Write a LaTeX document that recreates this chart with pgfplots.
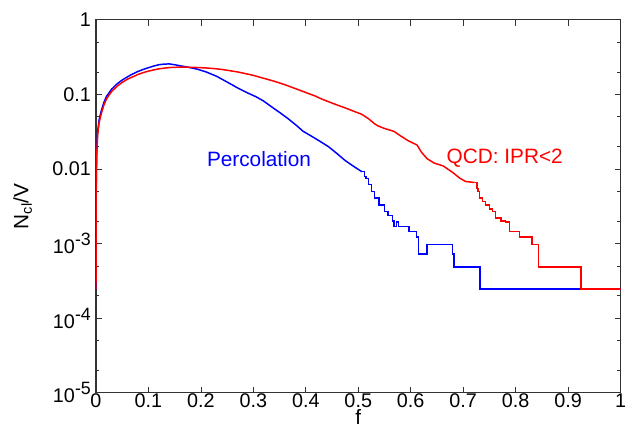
\documentclass[border=0pt]{standalone}
\usepackage{fontspec}
\setmainfont{Liberation Sans}
\usepackage{pgfplots}
\pgfplotsset{compat=1.18}
\pgfplotstableread{
f y
0 0.000245
0.0003 0.004
0.0008 0.009
0.0015 0.016
0.003 0.028
0.006 0.042
0.010 0.055
0.015 0.072
0.020 0.087
0.030 0.11
0.040 0.128
0.050 0.145
0.060 0.160
0.070 0.172
0.080 0.185
0.090 0.196
0.100 0.205
0.110 0.213
0.120 0.220
0.130 0.225
0.140 0.229
0.150 0.231
0.165 0.232
0.180 0.231
0.195 0.229
0.210 0.226
0.225 0.222
0.240 0.216
0.255 0.208
0.270 0.200
0.285 0.190
0.300 0.180
0.319 0.165
0.340 0.150
0.360 0.135
0.381 0.119
0.400 0.106
0.418 0.095
0.430 0.087
0.443 0.080
0.460 0.072
0.475 0.066
0.490 0.060
0.507 0.054
0.520 0.047
0.530 0.041
0.537 0.038
0.550 0.035
0.568 0.032
0.580 0.028
0.595 0.024
0.612 0.021
0.620 0.017
0.631 0.0138
0.645 0.012
0.662 0.011
0.680 0.0090
0.694 0.0075
0.705 0.0068
0.722 0.0066
}\qcdA
\pgfplotstableread{
f y
0.722 0.0066
0.726 0.0055
0.728 0.0050
0.731 0.0041
0.737 0.0037
0.743 0.0033
0.750 0.0029
0.756 0.0027
0.762 0.0022
0.772 0.0020
0.781 0.00195
0.788 0.00146
0.807 0.00122
0.831 0.00098
0.844 0.00049
0.925 0.000245
1.0 0.000245
}\qcdB
\pgfplotstableread{
f y
0 0.000245
0.0003 0.005
0.0008 0.010
0.0015 0.018
0.003 0.031
0.006 0.046
0.010 0.060
0.015 0.078
0.020 0.094
0.030 0.118
0.040 0.138
0.050 0.156
0.060 0.172
0.070 0.188
0.080 0.203
0.090 0.216
0.100 0.228
0.110 0.240
0.120 0.250
0.130 0.255
0.140 0.256
0.150 0.250
0.160 0.242
0.175 0.232
0.193 0.218
0.210 0.200
0.230 0.175
0.255 0.140
0.270 0.122
0.290 0.104
0.305 0.093
0.319 0.082
0.335 0.068
0.349 0.058
0.365 0.048
0.381 0.039
0.395 0.032
0.413 0.027
0.425 0.024
0.443 0.020
0.460 0.016
0.475 0.013
0.490 0.011
0.507 0.0092
}\percA
\pgfplotstableread{
f y
0.507 0.0092
0.512 0.0080
0.515 0.0075
0.520 0.0062
0.525 0.0050
0.531 0.0041
0.540 0.0033
0.550 0.0027
0.557 0.0024
0.565 0.0020
0.568 0.00171
0.573 0.00195
0.577 0.00171
0.597 0.00146
0.611 0.00122
0.615 0.000732
0.631 0.00098
0.680 0.000732
0.683 0.00049
0.732 0.000245
1.0 0.000245
}\percB
\begin{document}
\begin{tikzpicture}
\begin{axis}[
  scale only axis,
  width=530pt, height=377pt,
  xmin=0, xmax=1,
  ymode=log, ymin=1e-5, ymax=1,
  axis line style={line width=1.2pt, black!80},
  tick style={black!80, line width=0.8pt},
  tick align=inside,
  major tick length=6pt, minor tick length=3.5pt,
  xtick={0,0.1,...,1},
  xticklabels={0,0.1,0.2,0.3,0.4,0.5,0.6,0.7,0.8,0.9,1},
  ytick={1e-5,1e-4,1e-3,1e-2,1e-1,1},
  yticklabels={10\raisebox{0.4em}{\fontsize{18}{18}\selectfont -5},10\raisebox{0.4em}{\fontsize{18}{18}\selectfont -4},10\raisebox{0.4em}{\fontsize{18}{18}\selectfont -3},0.01,0.1,1},
  minor ytick={2e-5,5e-5,2e-4,5e-4,2e-3,5e-3,0.02,0.05,0.2,0.5},
  ticklabel style={font=\fontsize{20}{22}\selectfont},
  xticklabel style={inner sep=1pt, text depth=0pt},
  yticklabel style={inner sep=1pt, xshift=-4pt},
  xlabel={f},
  xlabel style={font=\fontsize{21}{22}\selectfont, at={(axis description cs:0.5,-0.043)}, anchor=north, inner sep=0pt, text depth=0pt},
  ylabel={N\textsubscript{cl}/V},
  ylabel style={font=\fontsize{21}{22}\selectfont, at={(axis description cs:-0.14,0.5)}, anchor=center},
  clip=true,
]
\addplot[blue, line width=1.5pt, line join=round] table[x=f,y=y] {\percA};
\addplot[const plot, blue, line width=1.5pt] table[x=f,y=y] {\percB};
\addplot[red, line width=1.5pt, line join=round] table[x=f,y=y] {\qcdA};
\addplot[const plot, red, line width=1.5pt] table[x=f,y=y] {\qcdB};
\node[blue, anchor=west, font=\fontsize{21}{22}\selectfont] at (axis cs:0.205,0.0138) {Percolation};
\node[red, anchor=west, font=\fontsize{21}{22}\selectfont] at (axis cs:0.662,0.0138) {QCD: IPR<2};
\end{axis}
\useasboundingbox (-97pt,-33pt) rectangle (530pt,397pt);
\end{tikzpicture}
\end{document}
